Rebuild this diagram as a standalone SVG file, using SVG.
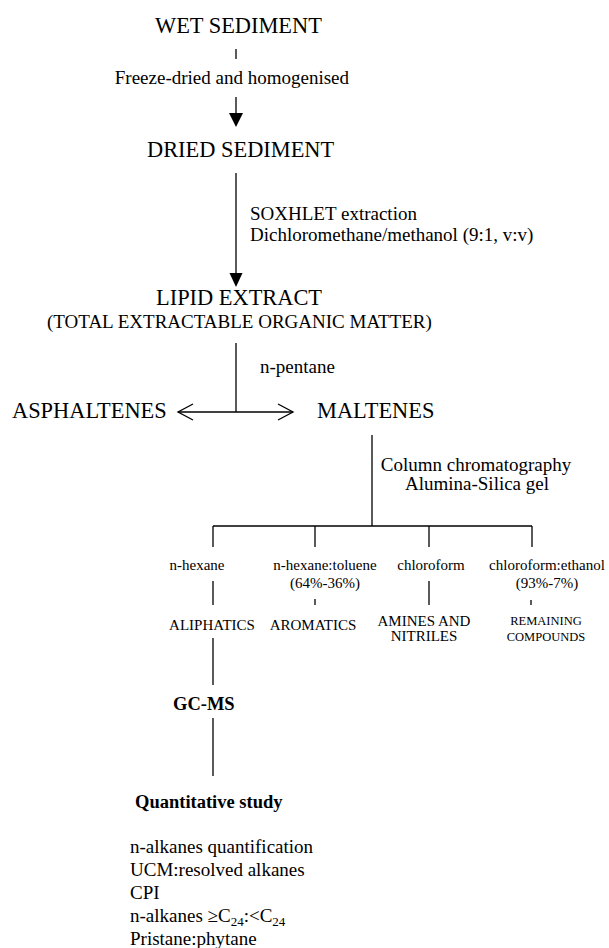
<svg xmlns="http://www.w3.org/2000/svg" width="609" height="948" viewBox="0 0 609 948">
<style>
text{font-family:"Liberation Serif","Times New Roman",Times,"DejaVu Serif",serif;fill:#000}
.big{font-size:22.4px}
.mid{font-size:19px}
.sm{font-size:15px}
.xs{font-size:12.5px}
.b{font-weight:bold;font-size:18.5px}
.c{text-anchor:middle}
line,polyline{stroke:#000;stroke-width:1.3;fill:none}
</style>
<g id="connectors">
<line x1="236" y1="49" x2="236" y2="59"/>
<line x1="236" y1="97" x2="236" y2="114"/>
<polygon points="229,113 243,113 236,127" fill="#000"/>
<line x1="236" y1="173" x2="236" y2="274"/>
<polygon points="229.5,273 242.5,273 236,287" fill="#000"/>
<line x1="236" y1="343" x2="236" y2="412"/>
<line x1="178" y1="412" x2="293" y2="412"/>
<polyline points="193,404 178,412 193,420"/>
<polyline points="278,404 293,412 278,420"/>
<line x1="372" y1="435" x2="372" y2="526"/>
<line x1="213" y1="526" x2="532" y2="526"/>
<line x1="213" y1="526" x2="213" y2="547"/>
<line x1="315" y1="526" x2="315" y2="547"/>
<line x1="429" y1="526" x2="429" y2="547"/>
<line x1="532" y1="526" x2="532" y2="547"/>
<line x1="213" y1="581" x2="213" y2="605"/>
<line x1="315" y1="599" x2="315" y2="605"/>
<line x1="429" y1="581" x2="429" y2="605"/>
<line x1="531" y1="600" x2="531" y2="605"/>
<line x1="213" y1="638" x2="213" y2="685"/>
<line x1="213" y1="718" x2="213" y2="776"/>
</g>
<g font-family="Liberation Serif, serif">
<g id="wet"><text class="big" x="155" y="33">WET SEDIMENT</text></g>
<g id="step1"><text class="mid" x="349" y="84" text-anchor="end">Freeze-dried and homogenised</text></g>
<g id="dried"><text class="big" x="147" y="157">DRIED SEDIMENT</text></g>
<g id="step2"><text class="mid" x="250" y="220">SOXHLET extraction</text><text class="mid" x="250" y="241">Dichloromethane/methanol (9:1, v:v)</text></g>
<g id="lipid"><text class="big" x="156" y="305">LIPID EXTRACT</text><text class="mid" x="47" y="328">(TOTAL EXTRACTABLE ORGANIC MATTER)</text></g>
<g id="step3"><text class="mid" x="260" y="373">n-pentane</text></g>
<g id="asphaltenes"><text class="big" x="12" y="418">ASPHALTENES</text></g>
<g id="maltenes"><text class="big" x="317" y="418">MALTENES</text></g>
<g id="step4"><text class="mid c" x="476" y="471">Column chromatography</text><text class="mid c" x="477" y="490">Alumina-Silica gel</text></g>
<g id="s1"><text class="sm c" x="197" y="570">n-hexane</text></g>
<g id="s2"><text class="sm c" x="325" y="570">n-hexane:toluene</text><text class="sm c" x="325" y="588">(64%-36%)</text></g>
<g id="s3"><text class="sm c" x="431" y="570">chloroform</text></g>
<g id="s4"><text class="sm c" x="547" y="570">chloroform:ethanol</text><text class="sm c" x="547" y="588">(93%-7%)</text></g>
<g id="aliphatics"><text class="sm c" x="212" y="630">ALIPHATICS</text></g>
<g id="aromatics"><text class="sm c" x="313" y="630">AROMATICS</text></g>
<g id="amines"><text class="sm c" x="424" y="626">AMINES AND</text><text class="sm c" x="424" y="641">NITRILES</text></g>
<g id="remaining"><text class="xs c" x="546" y="625">REMAINING</text><text class="xs c" x="546" y="641">COMPOUNDS</text></g>
<g id="gcms"><text class="b" x="173" y="710">GC-MS</text></g>
<g id="quant"><text class="b" x="135" y="808">Quantitative study</text></g>
<g id="list">
<text class="mid" x="130" y="853">n-alkanes quantification</text>
<text class="mid" x="130" y="876">UCM:resolved alkanes</text>
<text class="mid" x="130" y="899">CPI</text>
<text class="mid" x="130" y="922">n-alkanes ≥C<tspan font-size="13" dy="4">24</tspan><tspan dy="-4">:&lt;C</tspan><tspan font-size="13" dy="4">24</tspan></text>
<text class="mid" x="130" y="945">Pristane:phytane</text>
</g>
</g>
</svg>
